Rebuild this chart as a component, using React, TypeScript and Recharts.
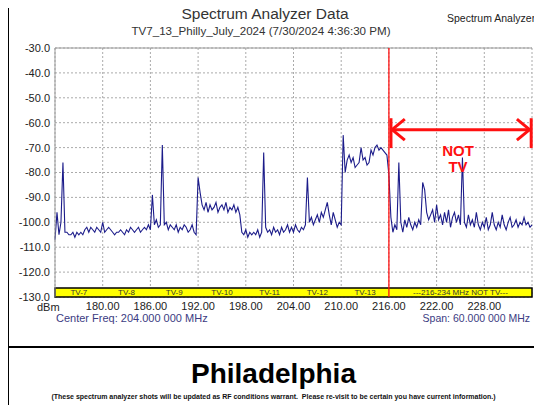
import { LineChart, Line, XAxis, YAxis, CartesianGrid, ReferenceArea, ReferenceLine } from 'recharts'

// trace samples, 174 MHz .. 234 MHz every 0.25 MHz (dBm)
const START_MHZ = 174
const STEP_MHZ = 0.25
const levels = [
  -107, -96, -105, -100, // 174
  -76, -104, -104, -105,
  -105, -104, -106, -104,
  -105, -104, -105, -103,
  -102, -104, -102, -103,
  -104, -102, -103, -104,
  -100, -104, -103, -102, // 180
  -103, -104, -105, -104,
  -104, -103, -104, -105,
  -103, -104, -102, -103,
  -104, -103, -102, -104,
  -103, -102, -103, -101,
  -103, -89, -101, -99, // 186
  -102, -101, -69, -101,
  -100, -103, -101, -102,
  -103, -101, -104, -102,
  -103, -101, -102, -104,
  -103, -101, -104, -105,
  -82, -88, -93, -95, // 192
  -92, -96, -93, -95,
  -94, -92, -96, -94,
  -93, -95, -92, -96,
  -94, -95, -93, -96,
  -94, -97, -104, -105,
  -103, -106, -104, -105, // 198
  -104, -105, -103, -106,
  -104, -72, -102, -104,
  -103, -105, -102, -104,
  -103, -105, -102, -104,
  -103, -101, -104, -102,
  -104, -101, -103, -104, // 204
  -102, -103, -101, -82,
  -100, -98, -101, -99,
  -97, -100, -96, -98,
  -95, -92, -97, -101,
  -96, -99, -102, -100,
  -101, -65, -80, -75, // 210
  -73, -76, -74, -78,
  -77, -76, -70, -75,
  -74, -77, -76, -71,
  -73, -70, -69, -71,
  -70, -71, -72, -73,
  -81, -98, -104, -101, // 216
  -103, -76, -100, -104,
  -99, -102, -98, -101,
  -103, -100, -102, -99,
  -101, -84, -87, -96,
  -99, -97, -95, -100,
  -93, -99, -97, -101, // 222
  -96, -100, -95, -102,
  -98, -96, -100, -97,
  -101, -74, -100, -102,
  -97, -101, -99, -102,
  -96, -101, -103, -100,
  -102, -98, -103, -101, // 228
  -96, -101, -103, -100,
  -102, -97, -101, -103,
  -100, -98, -102, -101,
  -99, -102, -100, -101,
  -98, -101, -100, -102,
  -101, // 234
]

const yTicks = [-130, -120, -110, -100, -90, -80, -70, -60, -50, -40, -30]
const xTicks = [180, 186, 192, 198, 204, 210, 216, 222, 228]

const channelNames = ['TV-7', 'TV-8', 'TV-9', 'TV-10', 'TV-11', 'TV-12', 'TV-13', '---216-234 MHz  NOT TV---']
const channelStarts = [174, 180, 186, 192, 198, 204, 210, 216]
const channelEnds = [180, 186, 192, 198, 204, 210, 216, 234]

const data = levels.map((dbm, i) => ({ mhz: START_MHZ + i * STEP_MHZ, dbm }))

const FONT = '"Liberation Sans", Arial, sans-serif'
const RED = '#ff1010'
const TRACE = '#1c1c8a'

// red "not TV" range marker
const ARROW_Y = -62.8
const arrowSegs = [
  [{ x: 216.3, y: ARROW_Y }, { x: 233.8, y: ARROW_Y }],
  [{ x: 216.4, y: ARROW_Y }, { x: 218.0, y: -58.6 }],
  [{ x: 216.4, y: ARROW_Y }, { x: 218.0, y: -67.0 }],
  [{ x: 233.7, y: ARROW_Y }, { x: 232.1, y: -58.6 }],
  [{ x: 233.7, y: ARROW_Y }, { x: 232.1, y: -67.0 }],
  [{ x: 216.26, y: -58.2 }, { x: 216.26, y: -70.2 }],
  [{ x: 233.9, y: -58.2 }, { x: 233.9, y: -70.2 }],
]

const abs = (s: React.CSSProperties): React.CSSProperties => ({ position: 'absolute', fontFamily: FONT, whiteSpace: 'nowrap', ...s })

export default function App() {
  return (
    <div style={{ margin: -8, position: 'relative', width: 542, height: 413, background: '#fff', overflow: 'hidden' }}>
      {/* frame */}
      <div style={{ position: 'absolute', left: 0, top: 0, width: 542, height: 4, background: '#000' }} />
      <div style={{ position: 'absolute', left: 5, top: 0, width: 4, height: 412, background: '#000' }} />
      <div style={{ position: 'absolute', left: 5, top: 346, width: 537, height: 2, background: '#000' }} />
      <div style={{ position: 'absolute', left: 5, top: 407, width: 537, height: 4, background: '#000' }} />

      <div style={abs({ left: 0, width: 530, top: 5, textAlign: 'center', fontSize: 15.5, color: '#333' })}>Spectrum Analyzer Data</div>
      <div style={abs({ left: 0, width: 522, top: 24, textAlign: 'center', fontSize: 11.6, color: '#333' })}>
        TV7_13_Philly_July_2024 (7/30/2024 4:36:30 PM)
      </div>
      <div style={abs({ left: 447, top: 12, fontSize: 10.5, color: '#222' })}>Spectrum Analyzer</div>

      <div style={{ position: 'absolute', left: 0, top: 0 }}>
        <LineChart width={542} height={413} data={data} margin={{ top: 48, right: 10, bottom: 86, left: 0 }}>
          <CartesianGrid stroke="#aaa" strokeDasharray="2 2" vertical horizontal />
          <XAxis
            dataKey="mhz"
            type="number"
            domain={[174, 234]}
            ticks={xTicks}
            tickFormatter={(v: number) => v.toFixed(2)}
            tick={{ fontSize: 11, fill: '#222', fontFamily: FONT }}
            tickLine={false}
            tickSize={0}
            axisLine={false}
            tickMargin={5}
            height={30}
            interval={0}
          />
          <YAxis
            type="number"
            domain={[-130, -30]}
            ticks={yTicks}
            tickFormatter={(v: number) => v.toFixed(1)}
            tick={{ fontSize: 11, fill: '#222', fontFamily: FONT }}
            tickLine={false}
            tickSize={0}
            axisLine={{ stroke: '#999' }}
            tickMargin={5}
            width={55}
            interval={0}
          />
          <ReferenceLine y={-30} stroke="#999" />
          <Line
            dataKey="dbm"
            stroke={TRACE}
            strokeWidth={1.1}
            dot={false}
            isAnimationActive={false}
            type="linear"
          />
          <ReferenceArea x1={174} x2={234} y1={-130} y2={-126.4} fill="#ffff00" fillOpacity={1} stroke="#000" strokeWidth={1.5} />
          {channelNames.map((name, i) => (
            <ReferenceArea
              key={name}
              x1={channelStarts[i]}
              x2={channelEnds[i]}
              y1={-129.6}
              y2={-126.8}
              fill="#ffff00"
              fillOpacity={0}
              stroke="none"
              label={{ value: name, position: 'center', fontSize: 8, fill: '#333', fontFamily: FONT }}
            />
          ))}
          <ReferenceLine x={216} stroke={RED} strokeWidth={1.3} />
          {arrowSegs.map((seg, i) => (
            <ReferenceLine key={i} segment={seg} stroke={RED} strokeWidth={3} ifOverflow="visible" />
          ))}
        </LineChart>
      </div>

      <div style={abs({ left: 441, top: 143, width: 34, textAlign: 'center', fontSize: 15, fontWeight: 'bold', color: RED, lineHeight: '16px' })}>
        NOT<br />TV
      </div>

      <div style={abs({ left: 37, top: 301, fontSize: 11, color: '#222' })}>dBm</div>
      <div style={abs({ left: 56, top: 312, fontSize: 11, color: '#3b3b82' })}>Center Freq: 204.000 000 MHz</div>
      <div style={abs({ right: 12, top: 312, fontSize: 10.5, color: '#3b3b82' })}>Span: 60.000 000 MHz</div>

      <div style={abs({ left: 5, width: 537, top: 358, textAlign: 'center', fontSize: 28, fontWeight: 'bold', color: '#000' })}>Philadelphia</div>
      <div style={abs({ left: 5, width: 537, top: 393, textAlign: 'center', fontSize: 7, fontWeight: 'bold', color: '#111' })}>
        (These spectrum analyzer shots will be updated as RF conditions warrant.&nbsp; Please re-visit to be certain you have current information.)
      </div>
    </div>
  )
}
